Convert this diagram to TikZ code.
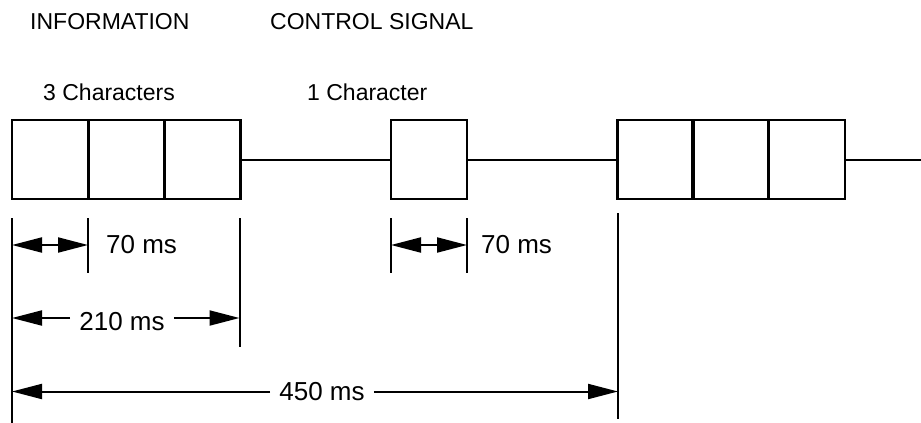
\documentclass[tikz,border=0pt]{standalone}
\usepackage{fontspec}
\setmainfont{Liberation Sans}
\usetikzlibrary{arrows.meta}
\begin{document}
\begin{tikzpicture}[x=1pt,y=-1pt,
  cell/.style={draw,line width=2.7pt,minimum width=76pt,minimum height=79pt,inner sep=0pt,outer sep=0pt},
  wire/.style={line width=2pt},
  tick/.style={line width=2pt},
  dim/.style={line width=2pt,{Triangle[length=30pt,width=15pt]}-{Triangle[length=30pt,width=15pt]}},
  dimr/.style={line width=2pt,-{Triangle[length=30pt,width=15pt]}},
  toplabel/.style={anchor=base west,inner sep=0pt,font=\fontsize{23}{28}\selectfont},
  dimlabel/.style={anchor=base west,inner sep=0pt,font=\fontsize{26}{31}\selectfont},
  midlabel/.style={anchor=base,inner xsep=9pt,inner ysep=0pt,font=\fontsize{26}{31}\selectfont}]
\useasboundingbox (0,0) rectangle (921,423);
% labels
\node[toplabel] (info) at (30,29.5) {INFORMATION};
\node[toplabel] (ctrl) at (270,29.5) {CONTROL SIGNAL};
\node[toplabel] (three) at (43,100) {3 Characters};
\node[toplabel] (one) at (307,100) {1 Character};
% cells
\node[cell] (c1) at (50,159.5) {};
\node[cell] (c2) at (126.5,159.5) {};
\node[cell] (c3) at (202.5,159.5) {};
\node[cell] (k) at (429,159.5) {};
\node[cell] (d1) at (655.5,159.5) {};
\node[cell] (d2) at (730.5,159.5) {};
\node[cell] (d3) at (807,159.5) {};
\coordinate (end) at (921,159.5);
\draw[wire] (c3.east) -- (k.west);
\draw[wire] (k.east) -- (d1.west);
\draw[wire] (d3.east) -- (end);
% ticks
\coordinate (t0a) at (12,218);   \coordinate (t0b) at (12,423);
\coordinate (t1a) at (88,218);   \coordinate (t1b) at (88,273);
\coordinate (t2a) at (239.5,218);\coordinate (t2b) at (239.5,347);
\coordinate (t3a) at (391,218);  \coordinate (t3b) at (391,273);
\coordinate (t4a) at (467,218);  \coordinate (t4b) at (467,273);
\coordinate (t5a) at (618,213);  \coordinate (t5b) at (618,419);
\foreach \i in {0,...,5}{\draw[tick] (t\i a) -- (t\i b);}
% 70 ms
\coordinate (a1l) at (12,245); \coordinate (a1r) at (88,245);
\draw[dim] (a1l) -- (a1r);
\node[dimlabel] (l70a) at (106,253) {70 ms};
\coordinate (a2l) at (391,245); \coordinate (a2r) at (467,245);
\draw[dim] (a2l) -- (a2r);
\node[dimlabel] (l70b) at (481,253) {70 ms};
% 210 ms
\coordinate (b1l) at (12,318); \coordinate (b1r) at (239.5,318);
\node[midlabel] (l210) at (122,330) {210 ms};
\draw[dimr] (l210.west |- b1l) -- (b1l);
\draw[dimr] (l210.east |- b1r) -- (b1r);
% 450 ms
\coordinate (c1l) at (12,391.5); \coordinate (c1r) at (618,391.5);
\node[midlabel] (l450) at (322,400) {450 ms};
\draw[dimr] (l450.west |- c1l) -- (c1l);
\draw[dimr] (l450.east |- c1r) -- (c1r);
\end{tikzpicture}
\end{document}
